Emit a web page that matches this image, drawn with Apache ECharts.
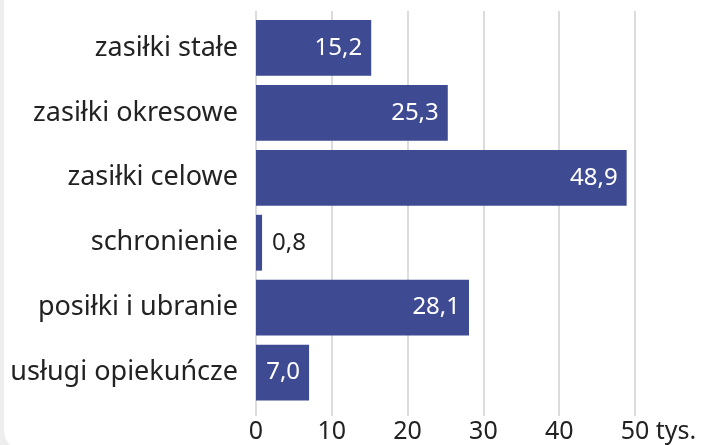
<!DOCTYPE html>
<html><head><meta charset="utf-8">
<script src="https://cdn.jsdelivr.net/npm/echarts@6/dist/echarts.min.js"></script>
<style>
html,body{margin:0;padding:0;width:707px;height:445px;overflow:hidden;background:#eeeeee;}
#card{position:absolute;left:4px;top:-30px;width:740px;height:482px;background:#fff;border-radius:22px;}
#c{position:absolute;left:0;top:0;width:707px;height:445px;}
</style></head>
<body><div id="card"></div><div id="c"></div>
<script>
const categories = ['zasiłki stałe','zasiłki okresowe','zasiłki celowe','schronienie','posiłki i ubranie','usługi opiekuńcze'];
const values = [15.2, 25.3, 48.9, 0.8, 28.1, 7.0];
const xTicks = [0, 10, 20, 30, 40, 50];
const unit = 'tys.';

const FONT = 'Noto Sans';
const chart = echarts.init(document.getElementById('c'), null, {renderer:'canvas'});
const fmt = v => v.toFixed(1).replace('.', ',');
const data = values.map(v => v < 3 ? {
  value: v,
  label: {position:'right', color:'#222', distance: 10}
} : {value: v});

chart.setOption({
  animation:false,
  grid:[
    {left:256, right:72, top:11, bottom:29},
    {left:256, right:72, top:15.5, bottom:40}
  ],
  xAxis:[
    {gridIndex:0, type:'value', min:xTicks[0], max:xTicks[xTicks.length-1], interval:10,
     axisLine:{show:false}, axisTick:{show:false},
     splitLine:{show:true, lineStyle:{color:'#dcdcdc', width:2}},
     axisLabel:{fontFamily:FONT, fontSize:25, color:'#222', margin:3,
       formatter: v => v === xTicks[xTicks.length-1] ? '{u|' + v + ' ' + unit + '}' : String(v),
       rich:{u:{fontFamily:FONT, fontSize:25, color:'#222', padding:[0,0,0,47]}}}},
    {gridIndex:1, type:'value', min:0, max:50, show:false}
  ],
  yAxis:[
    {gridIndex:0, type:'category', data:categories, show:false},
    {gridIndex:1, type:'category', data:categories, inverse:true,
     axisLine:{show:false}, axisTick:{show:false}, splitLine:{show:false},
     axisLabel:{fontFamily:FONT, fontSize:27, color:'#222', margin:18}}
  ],
  series:[{
    type:'bar', xAxisIndex:1, yAxisIndex:1, data:data,
    barCategoryGap:'14%',
    itemStyle:{color:'#3e4a91'},
    label:{show:true, position:'insideRight', distance:9, color:'#fff',
      fontFamily:FONT, fontSize:24, formatter: p => fmt(p.value)}
  }]
});
</script></body></html>
